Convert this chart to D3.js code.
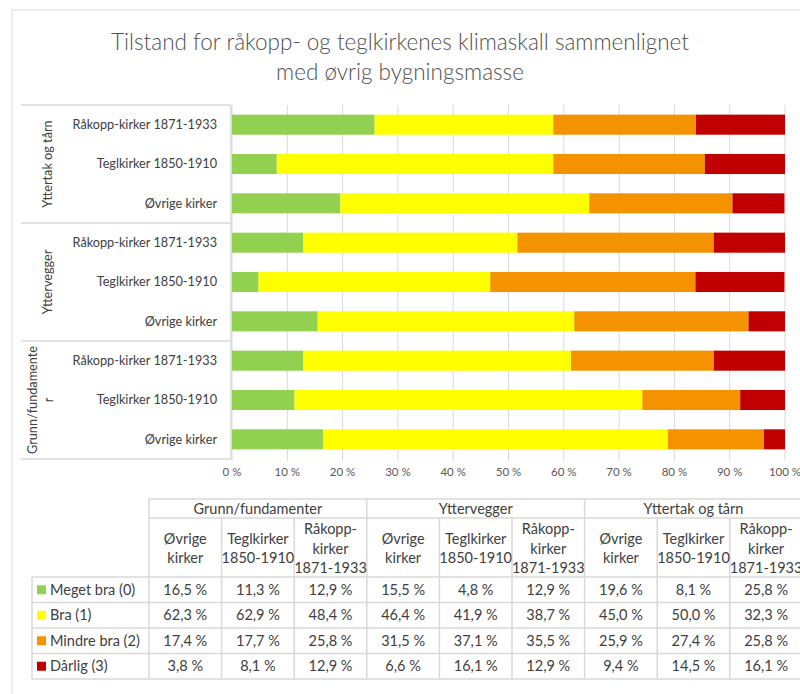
<!DOCTYPE html>
<html lang="no">
<head>
<meta charset="UTF-8">
<title>Tilstand klimaskall</title>
<script src="https://d3js.org/d3.v7.min.js"></script>
<style>
  body { margin: 0; background: #fff; font-family: Lato, "Open Sans", sans-serif; }
  svg text { fill: #404040; }
</style>
</head>
<body>
<svg width="800" height="694"></svg>
<script>
// data, in table column order
const groups = ["Grunn/fundamenter", "Yttervegger", "Yttertak og tårn"];
const churches = ["Øvrige kirker", "Teglkirker 1850-1910", "Råkopp-kirker 1871-1933"];
const seriesNames = ["Meget bra (0)", "Bra (1)", "Mindre bra (2)", "Dårlig (3)"];
const seriesColors = ["#92d050", "#ffff00", "#f59200", "#c00000"];
const megetBra = [16.5, 11.3, 12.9, 15.5, 4.8, 12.9, 19.6, 8.1, 25.8];
const bra = [62.3, 62.9, 48.4, 46.4, 41.9, 38.7, 45.0, 50.0, 32.3];
const mindreBra = [17.4, 17.7, 25.8, 31.5, 37.1, 35.5, 25.9, 27.4, 25.8];
const darlig = [3.8, 8.1, 12.9, 6.6, 16.1, 12.9, 9.4, 14.5, 16.1];
const xTicks = [0, 10, 20, 30, 40, 50, 60, 70, 80, 90, 100];

const values = [megetBra, bra, mindreBra, darlig];
const rows = [];
groups.forEach((g, gi) => churches.forEach((c, ci) => {
  const i = gi * 3 + ci;
  const r = { key: g + "|" + c, group: g, church: c };
  seriesNames.forEach((s, si) => r[s] = values[si][i]);
  rows.push(r);
}));

const svg = d3.select("svg");
const fmt = v => v.toFixed(1).replace(".", ",") + " %";

// outer frame
svg.append("rect").attr("x", 12).attr("y", 10).attr("width", 800).attr("height", 700)
  .attr("fill", "none").attr("stroke", "#d9d9d9");

// title
svg.append("text").attr("x", 400).attr("y", 50).attr("text-anchor", "middle")
  .style("font-size", "22.5px").style("font-weight", 300).style("fill", "#505050")
  .text("Tilstand for råkopp- og teglkirkenes klimaskall sammenlignet");
svg.append("text").attr("x", 400).attr("y", 80).attr("text-anchor", "middle")
  .style("font-size", "22.5px").style("font-weight", 300).style("fill", "#505050")
  .text("med øvrig bygningsmasse");

const x = d3.scaleLinear().domain([0, 100]).range([232, 785]);
const y = d3.scaleBand().domain(rows.map(d => d.key).reverse()).range([105, 459]).paddingInner(0.49).paddingOuter(0.245);

// gridlines
svg.append("g").selectAll("line").data(xTicks).join("line")
  .attr("x1", d => x(d)).attr("x2", d => x(d)).attr("y1", 105).attr("y2", 461)
  .attr("stroke", "#d9d9d9");

// stacked bars
const stack = d3.stack().keys(seriesNames)(rows);
svg.append("g").selectAll("g").data(stack).join("g")
  .attr("fill", (d, i) => seriesColors[i])
  .selectAll("rect").data(d => d).join("rect")
  .attr("x", d => x(d[0])).attr("width", d => x(d[1]) - x(d[0]))
  .attr("y", d => y(d.data.key)).attr("height", y.bandwidth());

// x axis labels
svg.append("g").selectAll("text").data(xTicks).join("text")
  .attr("x", d => x(d)).attr("y", 476).attr("text-anchor", "middle")
  .style("font-size", "11.5px").style("fill", "#595959")
  .text(d => d + " %");

// category axis: box lines and labels
const axis = svg.append("g").attr("stroke", "#d9d9d9").attr("stroke-width", 1.5);
axis.append("line").attr("x1", 231).attr("x2", 231).attr("y1", 105).attr("y2", 459);
const groupEdges = [105, 223, 341, 459];
axis.selectAll("line.h").data(groupEdges).join("line").attr("class", "h")
  .attr("x1", 21).attr("x2", 231).attr("y1", d => d).attr("y2", d => d);

svg.append("g").selectAll("text").data(rows).join("text")
  .attr("x", 217).attr("y", d => y(d.key) + y.bandwidth() / 2).attr("dy", "0.35em")
  .attr("text-anchor", "end").style("font-size", "12.7px")
  .text(d => d.church);

const groupLines = { "Grunn/fundamenter": ["Grunn/fundamente", "r"] };
groups.forEach(g => {
  const keys = rows.filter(r => r.group === g).map(r => r.key);
  const yc = d3.mean(keys.map(k => y(k) + y.bandwidth() / 2));
  const lines = groupLines[g] || [g];
  const x0 = lines.length > 1 ? 33 : 48;
  lines.forEach((t, li) => {
    svg.append("text")
      .attr("transform", `translate(${x0 + li * 16},${yc}) rotate(-90)`)
      .attr("text-anchor", "middle").attr("dy", "0.35em")
      .style("font-size", "12.7px").text(t);
  });
});

// data table
const colX = d3.range(10).map(i => 149 + i * 72.6);
const legX = 32;
const yTop = 499, yGrp = 518, ySub = 577, rowH = 25.5;
const rowY = d3.range(5).map(i => ySub + i * rowH);
const tbl = svg.append("g").attr("stroke", "#d9d9d9").attr("stroke-width", 1.5);
tbl.append("line").attr("x1", colX[0]).attr("x2", colX[9]).attr("y1", yTop).attr("y2", yTop);
tbl.append("line").attr("x1", colX[0]).attr("x2", colX[9]).attr("y1", yGrp).attr("y2", yGrp);
tbl.selectAll("line.r").data(rowY).join("line").attr("class", "r")
  .attr("x1", legX).attr("x2", colX[9]).attr("y1", d => d).attr("y2", d => d);
tbl.append("line").attr("x1", legX).attr("x2", legX).attr("y1", ySub).attr("y2", rowY[4]);
tbl.selectAll("line.c").data(colX).join("line").attr("class", "c")
  .attr("x1", d => d).attr("x2", d => d)
  .attr("y1", (d, i) => i % 3 === 0 ? yTop : yGrp).attr("y2", rowY[4]);

const fs = "14.5px";
groups.forEach((g, gi) => {
  svg.append("text").attr("x", (colX[gi * 3] + colX[gi * 3 + 3]) / 2).attr("y", (yTop + yGrp) / 2)
    .attr("dy", "0.35em").attr("text-anchor", "middle").style("font-size", fs).text(g);
});
const subLines = {
  "Øvrige kirker": ["Øvrige", "kirker"],
  "Teglkirker 1850-1910": ["Teglkirker", "1850-1910"],
  "Råkopp-kirker 1871-1933": ["Råkopp-", "kirker", "1871-1933"]
};
rows.forEach((r, i) => {
  const cx = (colX[i] + colX[i + 1]) / 2;
  const lines = subLines[r.church];
  const lh = 19.5;
  const yc = (yGrp + ySub) / 2 + 1;
  lines.forEach((t, li) => {
    svg.append("text").attr("x", cx).attr("y", yc + (li - (lines.length - 1) / 2) * lh)
      .attr("dy", "0.35em").attr("text-anchor", "middle").style("font-size", fs).text(t);
  });
  seriesNames.forEach((s, si) => {
    svg.append("text").attr("x", cx).attr("y", rowY[si] + rowH / 2)
      .attr("dy", "0.35em").attr("text-anchor", "middle").style("font-size", fs).text(fmt(r[s]));
  });
});
seriesNames.forEach((s, si) => {
  const yc = rowY[si] + rowH / 2;
  svg.append("rect").attr("x", 37).attr("y", yc - 4.5).attr("width", 9).attr("height", 9)
    .attr("fill", seriesColors[si]);
  svg.append("text").attr("x", 50).attr("y", yc).attr("dy", "0.35em")
    .style("font-size", fs).text(s);
});
</script>
</body>
</html>
